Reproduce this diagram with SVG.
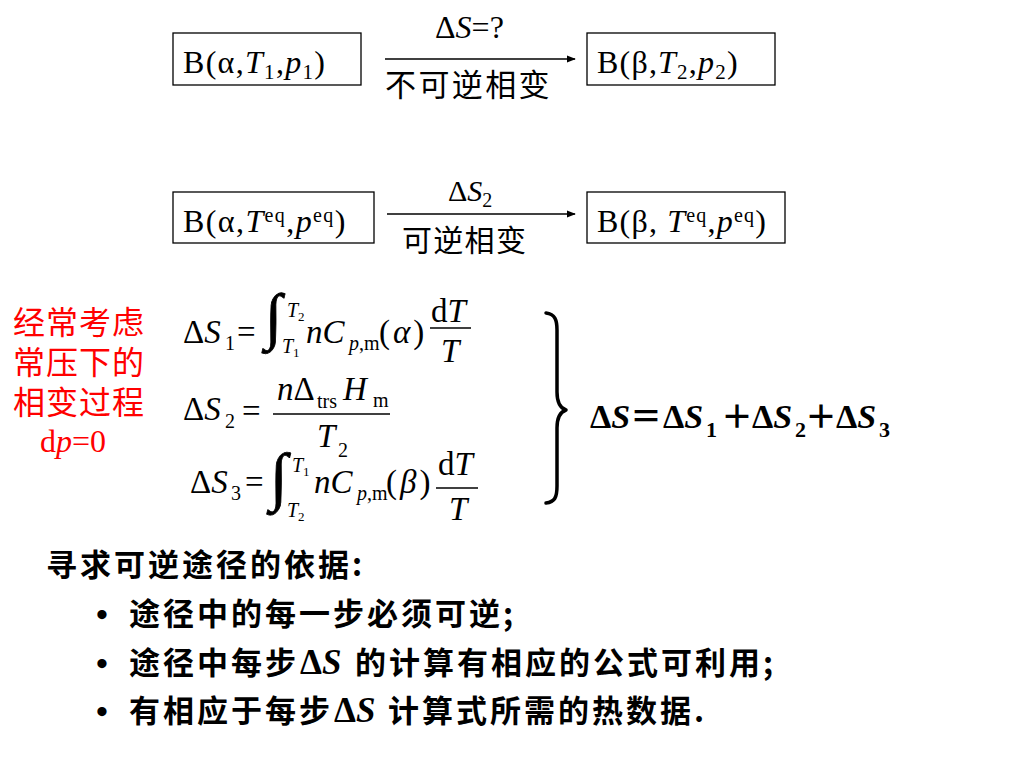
<svg xmlns="http://www.w3.org/2000/svg" width="1024" height="768" viewBox="0 0 1024 768">
<style>
  .bg{fill:#ffffff}
  .box{fill:#ffffff;stroke:#000000;stroke-width:1.3}
  .tm{font-family:"Liberation Serif","Times New Roman",serif;fill:#000000}
  .it{font-style:italic}
  .cjk{font-family:"Noto Sans CJK SC","Noto Sans CJK JP",sans-serif;fill:#000000}
  .cjkb{font-family:"Noto Sans CJK SC","Noto Sans CJK JP",sans-serif;font-weight:700;fill:#000000}
  .red{fill:#ff0000}
  .conn{stroke:#000000;stroke-width:1.5;fill:none}
  .bar{stroke:#000000;stroke-width:1.4}
  .int{stroke:#000000;stroke-width:0.8}
</style>
<defs>
  <marker id="arr" viewBox="0 0 10 10" refX="9" refY="5" markerWidth="6" markerHeight="6" markerUnits="strokeWidth" orient="auto">
    <path d="M0,1 L10,5 L0,9 Z" fill="#000000"/>
  </marker>
</defs>
<rect class="bg" x="0" y="0" width="1024" height="768"/>

<g id="node-alpha-T1p1">
  <rect class="box" x="173" y="33" width="188" height="52"/>
  <text class="tm" font-size="32" letter-spacing="1.3" y="73"><tspan x="183">B(α,</tspan><tspan class="it">T</tspan><tspan font-size="21" dy="6">1</tspan><tspan dy="-6">,</tspan><tspan class="it">p</tspan><tspan font-size="21" dy="6">1</tspan><tspan dy="-6">)</tspan></text>
</g>
<g id="node-beta-T2p2">
  <rect class="box" x="587" y="33" width="188" height="52"/>
  <text class="tm" font-size="32" letter-spacing="1.2" y="73"><tspan x="597">B(β,</tspan><tspan class="it">T</tspan><tspan font-size="21" dy="6">2</tspan><tspan dy="-6">,</tspan><tspan class="it">p</tspan><tspan font-size="21" dy="6">2</tspan><tspan dy="-6">)</tspan></text>
</g>
<g id="node-alpha-eq">
  <rect class="box" x="173" y="192" width="201" height="51"/>
  <text class="tm" font-size="32" letter-spacing="1.4" y="232"><tspan x="183">B(α,</tspan><tspan class="it">T</tspan><tspan font-size="20" dy="-10">eq</tspan><tspan dy="10">,</tspan><tspan class="it">p</tspan><tspan font-size="20" dy="-10">eq</tspan><tspan dy="10">)</tspan></text>
</g>
<g id="node-beta-eq">
  <rect class="box" x="587" y="192" width="198" height="51"/>
  <text class="tm" font-size="32" letter-spacing="1.2" y="232"><tspan x="597">B(β, </tspan><tspan class="it">T</tspan><tspan font-size="20" dy="-10">eq</tspan><tspan dy="10">,</tspan><tspan class="it">p</tspan><tspan font-size="20" dy="-10">eq</tspan><tspan dy="10">)</tspan></text>
</g>

<g id="connectors">
  <line class="conn" x1="385" y1="59" x2="575" y2="59" marker-end="url(#arr)"/>
  <text class="tm" font-size="32" x="435" y="38">Δ<tspan class="it">S</tspan>=?</text>
  <text class="cjk" font-size="31" letter-spacing="2.4" x="385" y="96">不可逆相变</text>
  <line class="conn" x1="387" y1="214" x2="575" y2="214" marker-end="url(#arr)"/>
  <text class="tm" font-size="30" x="448" y="201">Δ<tspan class="it">S</tspan><tspan font-size="20" dy="6">2</tspan></text>
  <text class="cjk" font-size="30" letter-spacing="1.3" x="402" y="251">可逆相变</text>
</g>

<g id="note-red">
  <text class="cjk red" font-size="32" letter-spacing="1"><tspan x="13" y="334">经常考虑</tspan><tspan x="13" y="374">常压下的</tspan><tspan x="13" y="414">相变过程</tspan></text>
  <text class="tm red" font-size="32" x="40" y="452">d<tspan class="it">p</tspan>=0</text>
</g>

<g id="formula-dS1">
  <text class="tm" font-size="33" x="183" y="343">Δ<tspan class="it">S</tspan></text>
  <text class="tm" font-size="20" x="225" y="350">1</text>
  <text class="tm" font-size="33" x="237" y="343">=</text>
  <text class="tm int" font-size="62" x="265" y="337">∫</text>
  <text class="tm it" font-size="20" x="287" y="317">T</text>
  <text class="tm" font-size="13" x="298" y="321">2</text>
  <text class="tm it" font-size="20" x="282" y="353">T</text>
  <text class="tm" font-size="13" x="293" y="357">1</text>
  <text class="tm it" font-size="33" x="306" y="343">nC</text>
  <text class="tm" font-size="20" x="349" y="350"><tspan class="it">p</tspan>,m</text>
  <text class="tm" font-size="33" letter-spacing="3" x="379" y="343">(<tspan class="it">α</tspan>)</text>
  <text class="tm" font-size="33" x="431" y="322">d<tspan class="it">T</tspan></text>
  <line class="bar" x1="430" y1="328" x2="471" y2="328"/>
  <text class="tm it" font-size="33" x="441" y="362">T</text>
</g>

<g id="formula-dS2">
  <text class="tm" font-size="33" x="183" y="420">Δ<tspan class="it">S</tspan></text>
  <text class="tm" font-size="20" x="225" y="428">2</text>
  <text class="tm" font-size="33" x="242" y="422">=</text>
  <text class="tm" font-size="33" x="277" y="400"><tspan class="it">n</tspan>Δ</text>
  <text class="tm" font-size="20" x="317" y="408">trs</text>
  <text class="tm it" font-size="33" x="343" y="400">H</text>
  <text class="tm" font-size="20" x="373" y="407">m</text>
  <line class="bar" x1="273" y1="414" x2="390" y2="414"/>
  <text class="tm it" font-size="33" x="317" y="447">T</text>
  <text class="tm" font-size="20" x="338" y="457">2</text>
</g>

<g id="formula-dS3">
  <text class="tm" font-size="33" x="190" y="493">Δ<tspan class="it">S</tspan></text>
  <text class="tm" font-size="20" x="231" y="500">3</text>
  <text class="tm" font-size="33" x="245" y="493">=</text>
  <text class="tm int" font-size="64" x="270" y="498">∫</text>
  <text class="tm it" font-size="20" x="292" y="472">T</text>
  <text class="tm" font-size="13" x="303" y="476">1</text>
  <text class="tm it" font-size="20" x="287" y="517">T</text>
  <text class="tm" font-size="13" x="298" y="521">2</text>
  <text class="tm it" font-size="33" x="314" y="493">nC</text>
  <text class="tm" font-size="20" x="357" y="500"><tspan class="it">p</tspan>,m</text>
  <text class="tm" font-size="33" letter-spacing="3" x="386" y="493">(<tspan class="it">β</tspan>)</text>
  <text class="tm" font-size="33" x="438" y="475">d<tspan class="it">T</tspan></text>
  <line class="bar" x1="436" y1="488" x2="478" y2="488"/>
  <text class="tm it" font-size="33" x="449" y="520">T</text>
</g>

<g id="brace">
  <path d="M546,313 C555,314 557,320 557,330 L557,392 C557,402 560,408 566,410 C560,412 557,418 557,428 L557,486 C557,497 555,502 546,503" fill="none" stroke="#000000" stroke-width="3.5" stroke-linecap="round" stroke-linejoin="round"/>
</g>

<g id="formula-total">
  <text class="tm" font-size="34" font-weight="700" x="590" y="428">Δ<tspan class="it">S</tspan></text>
  <text class="cjkb" font-size="32" text-anchor="middle" x="646" y="428">＝</text>
  <text class="tm" font-size="34" font-weight="700" x="663" y="428">Δ<tspan class="it">S</tspan></text>
  <text class="tm" font-size="22" font-weight="700" x="706" y="437">1</text>
  <text class="cjkb" font-size="32" text-anchor="middle" x="737" y="428">＋</text>
  <text class="tm" font-size="34" font-weight="700" x="752" y="428">Δ<tspan class="it">S</tspan></text>
  <text class="tm" font-size="22" font-weight="700" x="795" y="437">2</text>
  <text class="cjkb" font-size="32" text-anchor="middle" x="821" y="428">＋</text>
  <text class="tm" font-size="34" font-weight="700" x="836" y="428">Δ<tspan class="it">S</tspan></text>
  <text class="tm" font-size="22" font-weight="700" x="879" y="437">3</text>
</g>

<g id="criteria">
  <text class="cjkb" font-size="31" letter-spacing="3" x="46" y="576">寻求可逆途径的依据:</text>
  <text class="tm" font-size="34" font-weight="700" x="96" y="626">•</text>
  <text class="cjkb" font-size="31" letter-spacing="3" x="129" y="625">途径中的每一步必须可逆;</text>
  <text class="tm" font-size="34" font-weight="700" x="96" y="675">•</text>
  <text class="cjkb" font-size="31" letter-spacing="3" x="129" y="674">途径中每步</text>
  <text class="tm" font-size="35" font-weight="700" x="300" y="674">Δ<tspan class="it">S</tspan></text>
  <text class="cjkb" font-size="31" letter-spacing="3" x="355" y="674">的计算有相应的公式可利用;</text>
  <text class="tm" font-size="34" font-weight="700" x="96" y="723">•</text>
  <text class="cjkb" font-size="31" letter-spacing="3" x="129" y="722">有相应于每步</text>
  <text class="tm" font-size="35" font-weight="700" x="334" y="722">Δ<tspan class="it">S</tspan></text>
  <text class="cjkb" font-size="31" letter-spacing="3" x="388" y="722">计算式所需的热数据.</text>
</g>
</svg>
